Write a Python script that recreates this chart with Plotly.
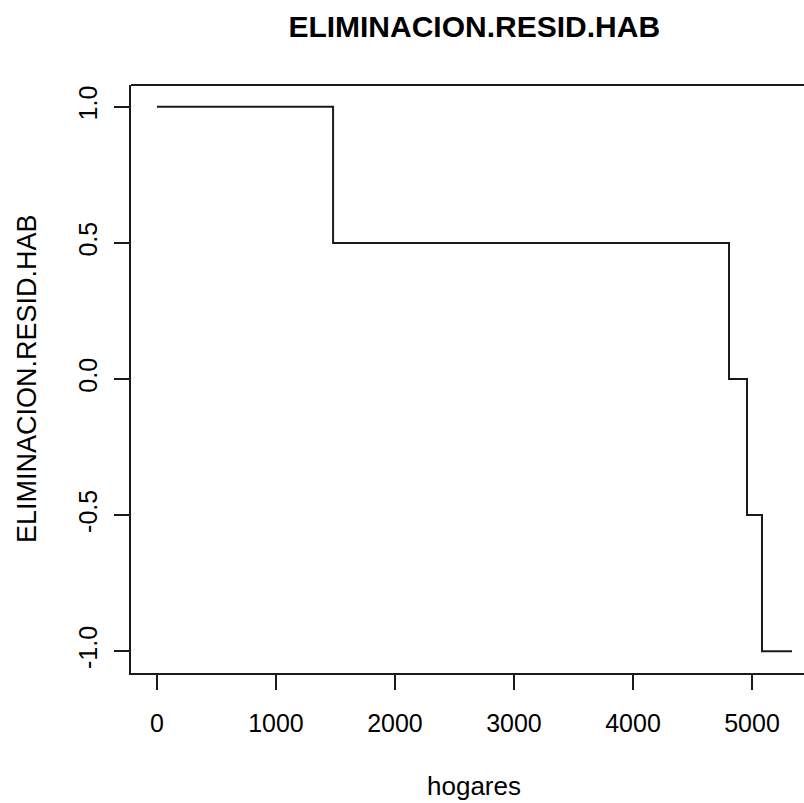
import plotly.graph_objects as go

# Data (step function)
hogares = [0, 1480, 4807, 4958, 5084, 5336]
elim = [1.0, 0.5, 0.0, -0.5, -1.0, -1.0]

x_ticks = [0, 1000, 2000, 3000, 4000, 5000]
x_tick_labels = ["0", "1000", "2000", "3000", "4000", "5000"]
y_ticks = [-1.0, -0.5, 0.0, 0.5, 1.0]
y_tick_labels = ["-1.0", "-0.5", "0.0", "0.5", "1.0"]

FONT = "Liberation Sans, Arial, Helvetica, sans-serif"
LC = "#1a1a1a"

fig = go.Figure()
fig.add_trace(go.Scatter(x=hogares, y=elim, mode="lines",
                         line=dict(shape="hv", color=LC, width=2),
                         hoverinfo="skip", showlegend=False))

fig.update_layout(
    width=804, height=803,
    margin=dict(l=131, r=0, t=85, b=130, pad=0),
    plot_bgcolor="white", paper_bgcolor="white",
    font=dict(family=FONT, color="black", size=25),
    showlegend=False,
    title=dict(text="<b>ELIMINACION.RESID.HAB</b>", x=0.51, xref="paper",
               xanchor="center", y=1 - 26 / 803, yref="container", yanchor="middle",
               font=dict(family=FONT, size=30, color="black")),
)

fig.update_xaxes(range=[-218, 5437], tickmode="array", tickvals=x_ticks,
                 ticktext=x_tick_labels, ticks="outside", ticklen=15, tickwidth=2,
                 tickcolor=LC, showline=True, linecolor=LC, linewidth=2,
                 showgrid=False, zeroline=False, ticklabelstandoff=12,
                 tickfont=dict(size=25, family=FONT, color="black"))
fig.update_yaxes(range=[-1.08, 1.08], tickmode="array", tickvals=y_ticks,
                 ticktext=y_tick_labels, ticks="outside", ticklen=15, tickwidth=2,
                 tickcolor=LC, showline=True, linecolor=LC, linewidth=2,
                 showgrid=False, zeroline=False, tickangle=-90, ticklabelstandoff=7,
                 tickfont=dict(size=25, family=FONT, color="black"))

# top border of the plot box (right border lies outside the visible canvas)
fig.add_shape(type="line", xref="paper", yref="paper", x0=0, x1=1.05, y0=1, y1=1,
              line=dict(color=LC, width=2))

# axis titles
fig.add_annotation(text="hogares", xref="paper", yref="paper",
                   x=(474 - 131) / 673, y=-(786 - 673) / 588, xanchor="center",
                   yanchor="middle", showarrow=False,
                   font=dict(family=FONT, size=26, color="black"))
fig.add_annotation(text="ELIMINACION.RESID.HAB", xref="paper", yref="paper",
                   x=-(131 - 27) / 673, y=0.5, xanchor="center", yanchor="middle",
                   textangle=-90, showarrow=False,
                   font=dict(family=FONT, size=27, color="black"))

fig.write_html("out.html", config={"displayModeBar": False},
               post_script="document.body.style.margin='0';document.body.style.overflow='hidden';")
